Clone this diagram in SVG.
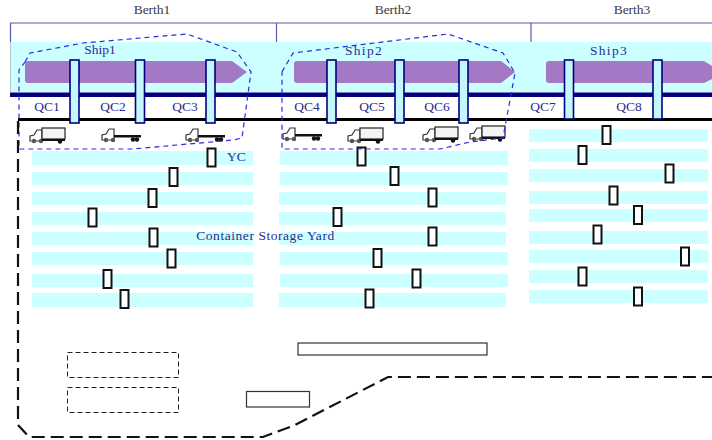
<svg xmlns="http://www.w3.org/2000/svg" xmlns:xlink="http://www.w3.org/1999/xlink" width="712" height="440" viewBox="0 0 712 440">
<style>
.t{font-family:"Liberation Serif","Times New Roman",serif;font-size:13.500px;text-anchor:middle}
.b{fill:#3a3a4a}
.l{fill:#2c2c90}
.row{fill:#ccffff}
.ship{fill:#a378c4}
.crane{fill:#c4f6fc;stroke:#000080;stroke-width:1.6}
.yc{fill:#fff;stroke:#111;stroke-width:2}
.zone{fill:none;stroke:#2a2ae8;stroke-width:1.2;stroke-dasharray:5 4}
.bld{fill:#fff;stroke:#333;stroke-width:1.2}
.res{fill:#fff;stroke:#222;stroke-width:1;stroke-dasharray:5 3}
</style>
<defs>
<g id="cab"><path d="M0 13V8L4 7 7 2H12V13Z" fill="#fff" stroke="#333" stroke-width="1.2"/><circle cx="4" cy="13" r="2.2" fill="#555"/><circle cx="11" cy="13" r="2.2" fill="#555"/></g>
<g id="box"><use xlink:href="#cab"/><rect x="12" y="0" width="23" height="11" fill="#f4f4f4" stroke="#222" stroke-width="1.2"/><rect x="12" y="11" width="23" height="2" fill="#111"/><circle cx="30" cy="13.500" r="2.200" fill="#111"/></g>
<g id="flat"><use xlink:href="#cab"/><rect x="12" y="8" width="27" height="2.500" fill="#111"/><circle cx="31" cy="12.500" r="2.200" fill="#111"/><circle cx="35" cy="12.500" r="2.200" fill="#111"/></g>
</defs>
<rect width="712" height="440" fill="#fff"/>
<g id="quay">
<rect x="10" y="42" width="702" height="50" class="row"/>
<path d="M10 23H712M10.500 23V42M276.500 23V42M531 23V42" fill="none" stroke="#5a5aa8" stroke-width="1.200"/>
<path d="M10.500 42V92" fill="none" stroke="#b8c8d0" stroke-width="1"/>
<rect x="10" y="92.500" width="702" height="4.500" fill="#000080"/>
<rect x="18" y="118" width="694" height="3" fill="#000"/>
</g>
<g id="labels">
<text class="t b" x="152" y="14">Berth1</text><text class="t b" x="393" y="14">Berth2</text><text class="t b" x="632" y="14">Berth3</text>
<text class="t l" x="100" y="54">Ship1</text><text class="t l" x="364" y="55" letter-spacing="1.300">Ship2</text><text class="t l" x="609" y="55" letter-spacing="1.300">Ship3</text>
<text class="t l" x="47" y="111">QC1</text><text class="t l" x="113" y="111">QC2</text><text class="t l" x="185" y="111">QC3</text><text class="t l" x="307" y="111">QC4</text><text class="t l" x="372" y="111">QC5</text><text class="t l" x="437" y="111">QC6</text><text class="t l" x="543" y="111">QC7</text><text class="t l" x="629" y="111">QC8</text>
</g>
<g id="ships">
<path id="ship1" class="ship" d="M28 61H232L247 72 232 83H28Q25 83 25 80V64Q25 61 28 61Z"/>
<path id="ship2" class="ship" d="M297 61H501L515 72 501 83H297Q294 83 294 80V64Q294 61 297 61Z"/>
<path id="ship3" class="ship" d="M549 61H704L712 66V79L704 83H549Q546 83 546 80V64Q546 61 549 61Z"/>
</g>
<g id="yard-rows">
<rect class="row" x="32" y="151" width="221" height="14"/><rect class="row" x="32" y="172" width="221" height="13"/><rect class="row" x="32" y="192" width="221" height="13"/><rect class="row" x="32" y="212" width="221" height="13"/><rect class="row" x="32" y="232" width="221" height="13"/><rect class="row" x="32" y="252" width="221" height="13"/><rect class="row" x="32" y="274" width="221" height="13"/><rect class="row" x="32" y="293" width="221" height="14"/>
<rect class="row" x="280" y="151" width="228" height="14"/><rect class="row" x="280" y="172" width="228" height="13"/><rect class="row" x="279" y="192" width="227" height="13"/><rect class="row" x="279" y="212" width="227" height="13"/><rect class="row" x="279" y="232" width="227" height="13"/><rect class="row" x="280" y="252" width="228" height="13"/><rect class="row" x="280" y="274" width="228" height="13"/><rect class="row" x="279" y="293" width="227" height="14"/>
<rect class="row" x="529" y="129" width="179" height="13"/><rect class="row" x="529" y="149" width="179" height="13"/><rect class="row" x="529" y="169" width="179" height="13"/><rect class="row" x="529" y="191" width="179" height="13"/><rect class="row" x="529" y="209" width="179" height="13"/><rect class="row" x="529" y="231" width="179" height="13"/><rect class="row" x="529" y="250" width="179" height="13"/><rect class="row" x="529" y="270" width="179" height="13"/><rect class="row" x="529" y="290" width="179" height="13"/>
</g>
<g id="yard-labels">
<text class="t l" x="236.500" y="161">YC</text>
<text class="t l" x="265.500" y="240" letter-spacing=".55">Container Storage Yard</text>
</g>
<g id="cranes">
<rect class="crane" x="70" y="60" width="9" height="63"/><rect class="crane" x="135.500" y="60" width="9" height="63"/><rect class="crane" x="206" y="60" width="9" height="63"/>
<rect class="crane" x="327" y="60" width="9" height="63"/><rect class="crane" x="395" y="60" width="9" height="63"/><rect class="crane" x="459" y="60" width="9" height="63"/>
<rect class="crane" x="564.500" y="60" width="9" height="59"/><rect class="crane" x="653" y="60" width="9" height="59"/>
</g>
<g id="trucks">
<use xlink:href="#box" x="30" y="128"/><use xlink:href="#flat" x="102" y="127"/><use xlink:href="#flat" x="186" y="127"/>
<use xlink:href="#flat" x="283" y="126"/><use xlink:href="#box" x="348" y="128"/><use xlink:href="#box" x="423" y="127"/><use xlink:href="#box" x="470" y="126"/>
</g>
<g id="yard-cranes">
<rect class="yc" x="207.500" y="148.500" width="8" height="18"/><rect class="yc" x="169.500" y="168" width="8" height="18"/><rect class="yc" x="148.500" y="189" width="8" height="18"/><rect class="yc" x="88.500" y="208.500" width="8" height="18"/><rect class="yc" x="149.500" y="228.500" width="8" height="18"/><rect class="yc" x="167.500" y="249.500" width="8" height="18"/><rect class="yc" x="103.500" y="270" width="8" height="18"/><rect class="yc" x="120.500" y="290" width="8" height="18"/>
<rect class="yc" x="357.500" y="147.500" width="8" height="18"/><rect class="yc" x="390.500" y="167" width="8" height="18"/><rect class="yc" x="428.500" y="188.500" width="8" height="18"/><rect class="yc" x="333.500" y="208" width="8" height="18"/><rect class="yc" x="428.500" y="227.500" width="8" height="18"/><rect class="yc" x="373.500" y="249" width="8" height="18"/><rect class="yc" x="412.500" y="269.500" width="8" height="18"/><rect class="yc" x="365.500" y="289.500" width="8" height="18"/>
<rect class="yc" x="602.500" y="126" width="8" height="18"/><rect class="yc" x="578.500" y="146" width="8" height="18"/><rect class="yc" x="665.500" y="164.500" width="8" height="18"/><rect class="yc" x="609.500" y="186.500" width="8" height="18"/><rect class="yc" x="634" y="206" width="8" height="18"/><rect class="yc" x="593.500" y="225.500" width="8" height="18"/><rect class="yc" x="681" y="247.500" width="8" height="18"/><rect class="yc" x="578.500" y="267.500" width="8" height="18"/><rect class="yc" x="634" y="287.500" width="8" height="18"/>
</g>
<g id="zones">
<path class="zone" d="M25 62 30 53 83 43 187 34 237 52 251 72 242 138 233 140 133 149H19V70Z"/>
<path class="zone" d="M282 72 293 53 448 34 503 53 515 73 505 127 503 138 470 142 440 149H282Z"/>
</g>
<g id="facilities">
<rect class="res" x="67.500" y="352.500" width="111" height="25"/>
<rect class="res" x="67.500" y="387.500" width="111" height="25"/>
<rect class="bld" x="298" y="343" width="189" height="12"/>
<rect class="bld" x="246.500" y="391.500" width="63" height="15.500"/>
</g>
<g id="connectors">
<path d="M18 121V425L29 437H263L295 425 388 377H712" fill="none" stroke="#111" stroke-width="2.200" stroke-dasharray="13 6"/>
</g>
</svg>
